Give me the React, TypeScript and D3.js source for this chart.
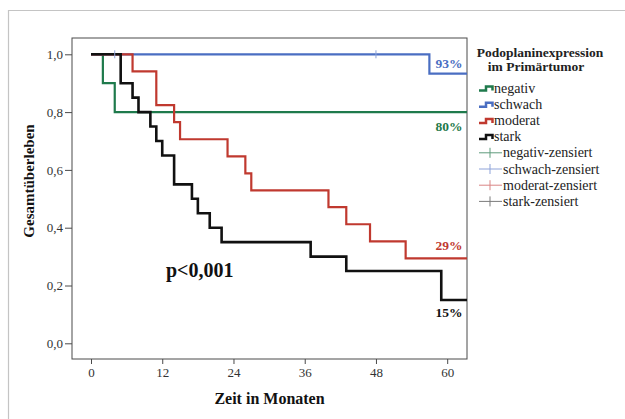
import React, { useEffect, useRef } from "react";
import * as d3 from "d3";

// Kaplan-Meier steps (months, survival after the event)
const negativTimes = [0, 2, 4];
const negativSurv = [1, 0.9, 0.8];

const schwachTimes = [0, 57];
const schwachSurv = [1, 0.933];
const schwachCensored = [4, 48];

const moderatTimes = [0, 7, 11, 14, 15, 23, 26, 27, 40, 43, 47, 53];
const moderatSurv = [1, 0.941, 0.824, 0.765, 0.706, 0.647, 0.588, 0.529, 0.471, 0.412, 0.353, 0.294];

const starkTimes = [0, 5, 7, 8, 10, 11, 12, 14, 17, 18, 20, 22, 37, 43, 59];
const starkSurv = [1, 0.9, 0.85, 0.8, 0.75, 0.7, 0.65, 0.55, 0.5, 0.45, 0.4, 0.35, 0.3, 0.25, 0.15];

const xTicks = [0, 12, 24, 36, 48, 60];
const yTicks = [0, 0.2, 0.4, 0.6, 0.8, 1.0];

const groupNames = ["negativ", "schwach", "moderat", "stark"];
const groupColors = ["#1f7a4c", "#4a6ec2", "#c0392f", "#111111"];
const censorColors = ["#5f9c7c", "#8ea3d9", "#d98585", "#7a7a7a"];
const endLabels = ["80%", "93%", "29%", "15%"];

const width = 625;
const height = 419;
const frame = { left: 72, right: 467, top: 38, bottom: 359 };
const serif = "'Liberation Serif', 'Times New Roman', 'DejaVu Serif', serif";

const App = () => {
  const svgRef = useRef<SVGSVGElement>(null);

  useEffect(() => {
    const svg = d3.select(svgRef.current);
    svg.selectAll("*").remove();

    const x = d3.scaleLinear().domain([0, 60]).range([91, 447.2]);
    const y = d3.scaleLinear().domain([0, 1]).range([343.3, 54.3]);
    const xEnd = x.invert(frame.right);

    // outer light frame (only top and left visible)
    svg.append("line").attr("x1", 8).attr("x2", width).attr("y1", 10.5).attr("y2", 10.5)
      .attr("stroke", "#c4c4c4").attr("stroke-width", 1.2);
    svg.append("line").attr("x1", 8.5).attr("x2", 8.5).attr("y1", 10).attr("y2", height)
      .attr("stroke", "#c4c4c4").attr("stroke-width", 1.2);

    // plot frame
    svg.append("rect")
      .attr("x", frame.left).attr("y", frame.top)
      .attr("width", frame.right - frame.left).attr("height", frame.bottom - frame.top)
      .attr("fill", "white").attr("stroke", "#4a4a4a").attr("stroke-width", 1);

    const fmt = (d: number) => d3.format(".1f")(d).replace(".", ",");

    const yAxis = svg.append("g")
      .attr("transform", `translate(${frame.left},0)`)
      .call(d3.axisLeft(y).tickValues(yTicks).tickFormat(fmt as any).tickSize(7).tickPadding(2));
    const xAxis = svg.append("g")
      .attr("transform", `translate(0,${frame.bottom})`)
      .call(d3.axisBottom(x).tickValues(xTicks).tickSize(5).tickPadding(4));
    [xAxis, yAxis].forEach((a) => {
      a.attr("font-family", null).attr("font-size", null);
      a.select(".domain").remove();
      a.selectAll("line").attr("stroke", "#4a4a4a");
      a.selectAll("text")
        .style("font-family", serif)
        .style("font-size", "13px")
        .attr("fill", "#333");
    });

    const line = d3.line<[number, number]>()
      .x((d) => x(d[0]))
      .y((d) => y(d[1]))
      .curve(d3.curveStepAfter);

    const groups = [
      [negativTimes, negativSurv],
      [schwachTimes, schwachSurv],
      [moderatTimes, moderatSurv],
      [starkTimes, starkSurv],
    ];

    groups.forEach(([times, surv], i) => {
      const pts: [number, number][] = times.map((t, j) => [t, surv[j]]);
      pts.push([xEnd, surv[surv.length - 1]]);
      svg.append("path")
        .attr("d", line(pts))
        .attr("fill", "none")
        .attr("stroke", groupColors[i])
        .attr("stroke-width", i === 3 ? 2.6 : 2.2);
    });

    // censor marks for schwach
    svg.append("g").selectAll("line")
      .data(schwachCensored)
      .join("line")
      .attr("x1", (d) => x(d)).attr("x2", (d) => x(d))
      .attr("y1", y(1) - 4).attr("y2", y(1) + 4)
      .attr("stroke", censorColors[1]).attr("stroke-width", 1);

    // end percentages
    const endY = [126.7, 63, 245.7, 312.3];
    endLabels.forEach((lab, i) => {
      svg.append("text")
        .attr("x", 462.5).attr("y", endY[i])
        .attr("text-anchor", "end").attr("dominant-baseline", "central")
        .style("font-family", serif).attr("font-weight", "bold")
        .attr("font-size", 13.5).attr("fill", groupColors[i])
        .text(lab);
    });

    svg.append("text")
      .attr("x", 166).attr("y", 270)
      .attr("dominant-baseline", "central")
      .style("font-family", serif).attr("font-weight", "bold")
      .attr("font-size", 20).attr("fill", "#111")
      .text("p<0,001");

    // axis titles
    svg.append("text")
      .attr("x", (frame.left + frame.right) / 2).attr("y", 398)
      .attr("text-anchor", "middle").attr("dominant-baseline", "central")
      .style("font-family", serif).attr("font-weight", "bold")
      .attr("font-size", 16).attr("fill", "#111")
      .text("Zeit in Monaten");
    svg.append("text")
      .attr("transform", "translate(29,181) rotate(-90)")
      .attr("text-anchor", "middle").attr("dominant-baseline", "central")
      .style("font-family", serif).attr("font-weight", "bold")
      .attr("font-size", 15).attr("fill", "#111")
      .text("Gesamtüberleben");

    // legend
    const lg = svg.append("g").style("font-family", serif).attr("fill", "#222");
    lg.append("text").attr("x", 540).attr("y", 52).attr("text-anchor", "middle")
      .attr("dominant-baseline", "central").attr("font-weight", "bold").attr("font-size", 13.5)
      .text("Podoplaninexpression");
    lg.append("text").attr("x", 536).attr("y", 66).attr("text-anchor", "middle")
      .attr("dominant-baseline", "central").attr("font-weight", "bold").attr("font-size", 13.5)
      .text("im Primärtumor");

    const rowY = (i: number) => 88 + i * 16.2;
    groupNames.forEach((name, i) => {
      const cy = rowY(i);
      lg.append("path")
        .attr("d", `M479,${cy + 2.5}H486V${cy - 1.5}H492.5V${cy + 2.5}`)
        .attr("fill", "none").attr("stroke", groupColors[i]).attr("stroke-width", 2.5);
      lg.append("text").attr("x", 494).attr("y", cy).attr("dominant-baseline", "central")
        .style("font-family", serif).attr("font-size", 14).text(name);
    });
    groupNames.forEach((name, i) => {
      const cy = rowY(i + 4);
      lg.append("line").attr("x1", 479).attr("x2", 502).attr("y1", cy).attr("y2", cy)
        .attr("stroke", censorColors[i]).attr("stroke-width", 1);
      lg.append("line").attr("x1", 490).attr("x2", 490).attr("y1", cy - 5).attr("y2", cy + 5)
        .attr("stroke", censorColors[i]).attr("stroke-width", 1);
      lg.append("text").attr("x", 503).attr("y", cy).attr("dominant-baseline", "central")
        .style("font-family", serif).attr("font-size", 14).text(`${name}-zensiert`);
    });
  }, []);

  return (
    <svg
      ref={svgRef}
      width={width}
      height={height}
      style={{ position: "absolute", left: 0, top: 0, background: "white" }}
    />
  );
};

export default App;
